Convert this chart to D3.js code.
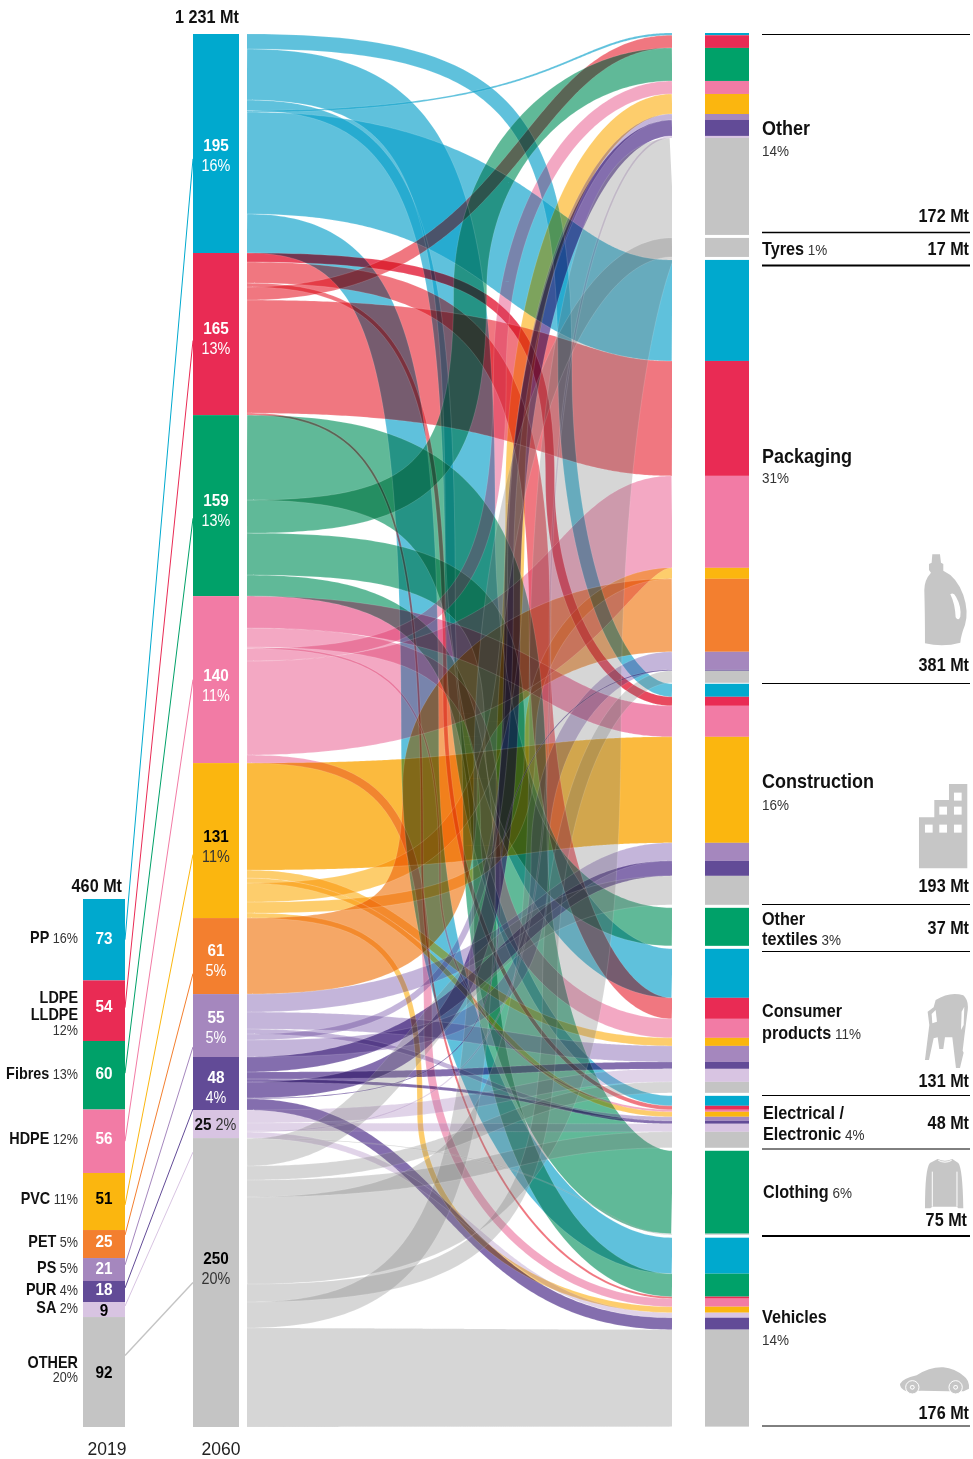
<!DOCTYPE html>
<html>
<head>
<meta charset="utf-8">
<script src="https://cdn.jsdelivr.net/npm/d3@7"></script>
<style>
html, body { margin: 0; padding: 0; background: #fff; }
svg { display: block; background: #fff; }
text { font-family: "Liberation Sans", Arial, sans-serif; }
</style>
</head>
<body>
<div id="chart"></div>
<script>
// polymers, 2019 and 2060 columns
var polymers = ["PP", "LDPE", "Fibres", "HDPE", "PVC", "PET", "PS", "PUR", "SA", "OTHER"];
var labels2019 = [73, 54, 60, 56, 51, 25, 21, 18, 9, 92];
var heights2019 = [70.9, 52.8, 59.7, 55.3, 49.7, 24.4, 20, 18.3, 13.1, 95.8];
var shares2019 = ["16%", "12%", "13%", "12%", "11%", "5%", "5%", "4%", "2%", "20%"];
var labels2060 = [195, 165, 159, 140, 131, 61, 55, 48, 25, 250];
var shares2060 = ["16%", "13%", "13%", "11%", "11%", "5%", "5%", "4%", "2%", "20%"];

// end use sectors, top to bottom in the right column
var sectors = ["Other", "Tyres", "Packaging", "Construction", "Other textiles", "Consumer", "Electrical", "Clothing", "Vehicles"];
var vehiclesStack = ["PP", "Fibres", "LDPE", "HDPE", "PVC", "SA", "PUR", "OTHER"];

// flows, in the stacking order of the 2060 column, Mt read on each side
var flowPolymer = [
  "PP", "PP", "PP", "PP", "PP", "PP",
  "LDPE", "LDPE", "LDPE", "LDPE", "LDPE", "LDPE",
  "Fibres", "Fibres", "Fibres", "Fibres",
  "HDPE", "HDPE", "HDPE", "HDPE", "HDPE", "HDPE",
  "PVC", "PVC", "PVC", "PVC", "PVC", "PVC",
  "PET",
  "PS", "PS", "PS", "PS", "PS",
  "PUR", "PUR", "PUR", "PUR", "PUR", "PUR",
  "SA", "SA", "SA", "SA",
  "OTHER", "OTHER", "OTHER", "OTHER", "OTHER", "OTHER", "OTHER", "OTHER"];
var flowSector = [
  "Construction", "Consumer", "Electrical", "Other", "Packaging", "Vehicles",
  "Construction", "Consumer", "Electrical", "Other", "Packaging", "Vehicles",
  "Clothing", "Other", "Other textiles", "Vehicles",
  "Construction", "Consumer", "Electrical", "Other", "Packaging", "Vehicles",
  "Construction", "Consumer", "Electrical", "Other", "Packaging", "Vehicles",
  "Packaging",
  "Construction", "Consumer", "Electrical", "Other", "Packaging",
  "Construction", "Consumer", "Electrical", "Other", "Packaging", "Vehicles",
  "Consumer", "Electrical", "Other", "Vehicles",
  "Clothing", "Construction", "Consumer", "Electrical", "Other", "Packaging", "Tyres", "Vehicles"];
var flowOut = [
  13.3, 45.1, 9.3, 1.3, 90.1, 34.5,
  8.0, 18.6, 3.5, 11.5, 99.9, 1.8,
  75.1, 29.2, 37.1, 18.6,
  28.3, 16.8, 1.3, 11.0, 83.1, 7.1,
  94.6, 7.1, 4.4, 16.8, 9.7, 4.4,
  67.2,
  15.9, 15.0, 4.4, 5.3, 15.0,
  13.3, 6.2, 2.7, 14.1, 0.7, 9.9,
  11.5, 7.1, 0.9, 5.3,
  0.6, 24.1, 12.4, 15.0, 76.9, 15.9, 23.0, 87.5];
var flowIn = [
  11.5, 43.3, 8.8, 2.0, 89.3, 31.8,
  8.0, 18.6, 3.5, 11.2, 101.6, 1.8,
  73.3, 29.2, 33.6, 20.3,
  27.4, 16.8, 1.8, 11.5, 81.3, 7.1,
  93.7, 7.1, 4.4, 17.7, 9.7, 5.3,
  64.5,
  15.9, 14.1, 3.5, 5.3, 15.9,
  13.3, 6.2, 2.7, 14.1, 0.9, 10.6,
  11.5, 7.1, 1.8, 4.4,
  0.9, 25.6, 9.7, 14.1, 85.7, 10.6, 16.8, 85.7];

// where each ribbon turns, as a share of the width between the columns
var flowBend = [
  .748, .525, .478, .689, .612, .407,
  .713, .689, .466, .607, .659, .412,
  .607, .525, .607, .56,
  .631, .572, .454, .595, .713, .426,
  .595, .471, .525, .631, .666, .407,
  .454,
  .631, .572, .525, .62, .689,
  .572, .595, .666, .624, .595, .478,
  .595, .5, .713, .525,
  .725, .442, .548, .572, .772, .713, .56, .5];

var barColors = ["#00a9ce", "#e92b54", "#00a169", "#f27ba5", "#fbb60f", "#f37f2f", "#a587be", "#624b97", "#d8c4e2", "#c4c4c4"];
var ribbonColors = ["#5fc1dc", "#f07780", "#60b998", "#f3a8c3", "#fdcd6c", "#f5a766", "#c4b5da", "#846fae", "#e0d3e8", "#d6d6d6"];
var constructionColors = ["#5fc1dc", "#e8435f", "#60b998", "#f08cb0", "#fbba33", "#f5a766", "#c4b5da", "#846fae", "#e0d3e8", "#d6d6d6"];
var valueColors = ["#fff", "#fff", "#fff", "#fff", "#000", "#fff", "#fff", "#fff", "#000", "#000"];

// connector anchors, share of bar height
var anchor2019 = [.5, .45, .47, .5, .56, .18, .3, .33, .27, .35];
var anchor2060 = [.57, .54, .57, .5, .59, .73, .84, .98, 1.5, .5];

// small label shifts against the bar centre
var nudge2019 = [4, 1, 4, 3, 2, 3, 4, 4, 6, 6];
var nudge2060 = [7.5, 0, 0, 1, 1, 0, -3, -1, 0, -19];

var width = 973, height = 1459;
var total = d3.sum(flowOut);
var sankeyX0 = 247, sankeyX1 = 672;
var sectorGaps = [3, 3, 1, 3, 3, 3, 3, 3];
var fadeAlpha = .65, plainShare = .3;

var yLeft = d3.scaleLinear().domain([0, total]).range([34, 1427]);
var px = (yLeft(total) - yLeft(0)) / total;
var y2019 = d3.scaleLinear().domain([0, d3.sum(heights2019)]).range([899, 1427]);
var bendX = d3.scaleLinear().domain([0, 1]).range([sankeyX0, sankeyX1]);

var svg = d3.select("#chart").append("svg").attr("width", width).attr("height", height);

function label(x, y, str, size, bold, anchor, fill) {
  return svg.append("text")
    .attr("transform", "translate(" + x + "," + y + ") scale(.9,1)")
    .attr("text-anchor", anchor || "start")
    .attr("font-size", size)
    .attr("font-weight", bold ? 700 : 400)
    .attr("fill", fill || "#111")
    .text(str);
}
function label2(x, y, boldStr, plainStr, size, plainSize, anchor) {
  var t = svg.append("text")
    .attr("transform", "translate(" + x + "," + y + ") scale(.9,1)")
    .attr("text-anchor", anchor || "start")
    .attr("fill", "#111");
  t.append("tspan").attr("font-size", size).attr("font-weight", 700).text(boldStr);
  t.append("tspan").attr("font-size", plainSize).attr("fill", "#333").text(" " + plainStr);
  return t;
}

// stack everything first
var flows = flowPolymer.map(function(p, i) {
  return {polymer: p, sector: flowSector[i], out: flowOut[i], into: flowIn[i], bend: flowBend[i], pi: polymers.indexOf(p)};
});

var cum = 0;
var bars2060 = polymers.map(function(p) {
  var start = cum;
  flows.filter(function(f) { return f.polymer == p; }).forEach(function(f) {
    f.y0 = yLeft(cum + f.out / 2);
    cum += f.out;
  });
  return {polymer: p, start: start, end: cum};
});

var yr = 33;
var sectorSegments = [];
sectors.forEach(function(s, si) {
  var list = flows.filter(function(f) { return f.sector == s; });
  var order = s == "Vehicles" ? vehiclesStack : polymers;
  list.sort(function(a, b) { return order.indexOf(a.polymer) - order.indexOf(b.polymer); });
  list.forEach(function(f) {
    var h = f.into * px;
    f.y1 = yr + h / 2;
    sectorSegments.push({y: yr, h: h, color: barColors[f.pi]});
    yr += h;
  });
  if (si < sectorGaps.length) yr += sectorGaps[si];
});

// centre line of a ribbon, then offset square to it so the band keeps its width
function bezier(a, b, c, d, t) {
  var u = 1 - t;
  return u * u * u * a + 3 * u * u * t * b + 3 * u * t * t * c + t * t * t * d;
}
function centreLine(f) {
  var x0 = sankeyX0, x1 = sankeyX1, y0 = f.y0, y1 = f.y1, c = bendX(f.bend);
  var pts = [], n = 90, i, t;
  if (Math.abs(y1 - y0) < 300) {
    var xm = (c - (x0 + x1) / 8) / .75;
    for (i = 0; i <= 2 * n; i++) {
      t = i / (2 * n);
      pts.push([bezier(x0, xm, xm, x1, t), bezier(y0, y0, y1, y1, t)]);
    }
  } else {
    var ym = (y0 + y1) / 2;
    for (i = 0; i <= n; i++) {
      t = i / n;
      pts.push([bezier(x0, x0 + .8 * (c - x0), c, c, t), bezier(y0, y0, y0 + .2 * (ym - y0), ym, t)]);
    }
    for (i = 1; i <= n; i++) {
      t = i / n;
      pts.push([bezier(c, c, x1 - .55 * (x1 - c), x1, t), bezier(ym, ym + .55 * (y1 - ym), y1, y1, t)]);
    }
  }
  return pts;
}
function ribbonSides(f) {
  var pts = centreLine(f), n = pts.length, upper = [], lower = [];
  pts.forEach(function(p, i) {
    var a = pts[Math.max(i - 1, 0)], b = pts[Math.min(i + 1, n - 1)];
    var dx = b[0] - a[0], dy = b[1] - a[1], len = Math.hypot(dx, dy) || 1;
    var w = (f.out + (f.into - f.out) * i / (n - 1)) * px / 2;
    upper.push([p[0] + dy / len * w, p[1] - dx / len * w]);
    lower.push([p[0] - dy / len * w, p[1] + dx / len * w]);
  });
  return [upper, lower];
}
function ribbonPath(f) {
  var sides = ribbonSides(f), upper = sides[0], lower = sides[1];
  // every quad wound the same way so tight bends fill without holes
  var path = d3.path();
  for (var i = 0; i < upper.length - 1; i++) {
    var q = [upper[i], upper[i + 1], lower[i + 1], lower[i]];
    if (d3.polygonArea(q) < 0) q.reverse();
    path.moveTo(q[0][0], q[0][1]);
    path.lineTo(q[1][0], q[1][1]);
    path.lineTo(q[2][0], q[2][1]);
    path.lineTo(q[3][0], q[3][1]);
    path.closePath();
  }
  return path.toString();
}
var edgeLine = d3.line();
function ribbonEdges(f) {
  var sides = ribbonSides(f);
  return edgeLine(sides[0]) + edgeLine(sides[1]);
}
function ribbonColor(d) {
  return d.sector == "Construction" ? constructionColors[d.pi] : ribbonColors[d.pi];
}
// the colour that gives the pale ribbon colour once faded over white
function unfaded(c) {
  var r = d3.rgb(c);
  var f = function(v) { return Math.max(0, Math.min(255, (v - 255 * (1 - fadeAlpha)) / fadeAlpha)); };
  return d3.rgb(f(r.r), f(r.g), f(r.b)).toString();
}

svg.append("clipPath").attr("id", "sankeyClip").append("rect")
  .attr("x", sankeyX0).attr("y", 30).attr("width", sankeyX1 - sankeyX0).attr("height", 1400);

var ribbons = svg.append("g").attr("clip-path", "url(#sankeyClip)").style("isolation", "isolate");

// overlaps sit between a multiply and a plain see-through mix
var multiplyLayer = ribbons.append("g");
multiplyLayer.selectAll("path.multi")
  .data(flows.filter(function(d) { return d.polymer != "PP"; }))
  .enter()
  .append("path")
    .attr("class", "multi")
    .attr("d", ribbonPath)
    .attr("fill", ribbonColor)
    .style("mix-blend-mode", "multiply");

// PP keeps a clean blue where it crosses itself
multiplyLayer.append("g").style("mix-blend-mode", "multiply").selectAll("path")
  .data(flows.filter(function(d) { return d.polymer == "PP"; }))
  .enter()
  .append("path")
    .attr("d", ribbonPath)
    .attr("fill", function(d) { return unfaded(ribbonColor(d)); })
    .attr("fill-opacity", fadeAlpha);

var plainLayer = ribbons.append("g").attr("opacity", plainShare);
plainLayer.append("rect")
  .attr("x", 0).attr("y", 0).attr("width", width).attr("height", height).attr("fill", "#fff");
plainLayer.selectAll("path")
  .data(flows)
  .enter()
  .append("path")
    .attr("d", ribbonPath)
    .attr("fill", function(d) { return unfaded(ribbonColor(d)); })
    .attr("fill-opacity", fadeAlpha);

// faint light seams along the ribbon edges
ribbons.append("g").selectAll("path")
  .data(flows)
  .enter()
  .append("path")
    .attr("d", ribbonEdges)
    .attr("fill", "none")
    .attr("stroke", "#fff")
    .attr("stroke-opacity", .22)
    .attr("stroke-width", .6);

// connectors between the two left columns
var cum19 = d3.cumsum(heights2019);
polymers.forEach(function(p, i) {
  var top19 = i ? cum19[i - 1] : 0;
  var bar = bars2060[i];
  svg.append("line")
    .attr("x1", 125)
    .attr("y1", y2019(top19 + heights2019[i] * anchor2019[i]))
    .attr("x2", 193)
    .attr("y2", yLeft(bar.start + (bar.end - bar.start) * anchor2060[i]))
    .attr("stroke", barColors[i])
    .attr("stroke-width", i == 9 ? 1.4 : 1);
});

// 2019 bars
svg.append("g").selectAll("rect")
  .data(heights2019)
  .enter()
  .append("rect")
    .attr("x", 83).attr("width", 42)
    .attr("y", function(d, i) { return y2019(i ? cum19[i - 1] : 0); })
    .attr("height", function(d) { return y2019(d) - y2019(0); })
    .attr("fill", function(d, i) { return barColors[i]; });

// 2060 bars
svg.append("g").selectAll("rect")
  .data(bars2060)
  .enter()
  .append("rect")
    .attr("x", 193).attr("width", 46)
    .attr("y", function(d) { return yLeft(d.start); })
    .attr("height", function(d) { return yLeft(d.end) - yLeft(d.start); })
    .attr("fill", function(d, i) { return barColors[i]; });

// right column
svg.append("g").selectAll("rect")
  .data(sectorSegments)
  .enter()
  .append("rect")
    .attr("x", 705).attr("width", 44)
    .attr("y", function(d) { return d.y; })
    .attr("height", function(d) { return d.h; })
    .attr("fill", function(d) { return d.color; });

// 2019 values
labels2019.forEach(function(v, i) {
  var top19 = i ? cum19[i - 1] : 0;
  label(104, y2019(top19 + heights2019[i] / 2) + nudge2019[i], v, 17, true, "middle", valueColors[i]);
});

// 2060 values, number over share
labels2060.forEach(function(v, i) {
  var bar = bars2060[i];
  var cy = (yLeft(bar.start) + yLeft(bar.end)) / 2;
  if (i == 8) {
    label2(215.5, cy + 6, v, shares2060[i], 17, 16, "middle");
    return;
  }
  label(216, cy + nudge2060[i], v, 17, true, "middle", valueColors[i]);
  label(216, cy + nudge2060[i] + 20, shares2060[i], 16, false, "middle", i == 4 || i == 9 ? "#333" : "#fff");
});

// polymer names
var singleRow = {PP: 943, Fibres: 1079, HDPE: 1144, PVC: 1204, PET: 1247, PS: 1273, PUR: 1295, SA: 1313};
polymers.forEach(function(p, i) {
  if (singleRow[p]) label2(78, singleRow[p], p, shares2019[i], 16, 14, "end");
});
label(78, 1003, "LDPE", 16, true, "end");
label(78, 1020, "LLDPE", 16, true, "end");
label(78, 1035, "12%", 14, false, "end", "#333");
label(78, 1368, "OTHER", 16, true, "end");
label(78, 1382, "20%", 14, false, "end", "#333");

label(122, 892, "460 Mt", 18, true, "end");
label(239, 23, "1 231 Mt", 18, true, "end");
svg.append("text").attr("x", 107).attr("y", 1455).attr("text-anchor", "middle").attr("font-size", 17.5).attr("fill", "#222").text("2019");
svg.append("text").attr("x", 221).attr("y", 1455).attr("text-anchor", "middle").attr("font-size", 17.5).attr("fill", "#222").text("2060");

// sector rules and names
var rules = [[34.5, 1], [232.5, 1.5], [265.5, 2], [683.5, 1], [904.5, 1], [951.5, 1], [1095.5, 1], [1149, 1], [1236, 2], [1426, 1]];
rules.forEach(function(r) {
  svg.append("line").attr("x1", 762).attr("x2", 970).attr("y1", r[0]).attr("y2", r[0])
    .attr("stroke", "#000").attr("stroke-width", r[1]);
});

label(762, 135, "Other", 20, true);
label(762, 156, "14%", 15, false, "start", "#333");
label(969, 222, "172 Mt", 18, true, "end");
label2(762, 255, "Tyres", "1%", 18, 15);
label(969, 255, "17 Mt", 18, true, "end");
label(762, 463, "Packaging", 20, true);
label(762, 483, "31%", 15, false, "start", "#333");
label(969, 671, "381 Mt", 18, true, "end");
label(762, 788, "Construction", 20, true);
label(762, 810, "16%", 15, false, "start", "#333");
label(969, 892, "193 Mt", 18, true, "end");
label(762, 925, "Other", 18, true);
label2(762, 945, "textiles", "3%", 18, 15);
label(969, 934, "37 Mt", 18, true, "end");
label(762, 1017, "Consumer", 18, true);
label2(762, 1039, "products", "11%", 18, 15);
label(969, 1087, "131 Mt", 18, true, "end");
label(763, 1119, "Electrical /", 18, true);
label2(763, 1140, "Electronic", "4%", 18, 15);
label(969, 1129, "48 Mt", 18, true, "end");
label2(763, 1198, "Clothing", "6%", 18, 15);
label(967, 1226, "75 Mt", 18, true, "end");
label(762, 1323, "Vehicles", 18, true);
label(762, 1345, "14%", 15, false, "start", "#333");
label(969, 1419, "176 Mt", 18, true, "end");

// pictograms
var iconGrey = "#c6c6c6";
var icons = svg.append("g").attr("transform", "translate(695,500) scale(.3333)");
// bottle
icons.append("path").attr("fill", iconGrey)
  .attr("d", "M712,163 L735,163 L738,188 L745,192 L745,212 Q785,230 805,285 Q822,335 810,375 Q798,405 796,428 Q745,442 690,430 Q690,340 688,270 Q688,240 708,218 L702,210 L702,192 L710,188 Z");
icons.append("path").attr("fill", "#fff")
  .attr("d", "M766,283 Q775,275 783,290 Q800,320 796,350 Q790,365 782,352 Q780,310 766,283 Z");
// building
icons.append("path").attr("fill", iconGrey)
  .attr("d", "M672,952 L718,952 L718,900 L762,900 L762,852 L817,852 L817,1105 L672,1105 Z");
[[690, 974], [733, 974], [777, 974], [733, 920], [777, 920], [777, 878]].forEach(function(w) {
  icons.append("rect").attr("x", w[0]).attr("y", w[1]).attr("width", 23).attr("height", 24).attr("fill", "#fff");
});

var icons2 = svg.append("g").attr("transform", "translate(695,980) scale(.3333)");
// chair
icons2.append("path").attr("fill", iconGrey)
  .attr("d", "M722,60 Q765,33 805,46 Q824,62 817,100 L808,170 L803,212 L806,218 L795,264 L783,264 L772,172 L750,172 L745,207 L733,207 L728,172 L716,175 L702,240 L690,240 L703,135 L698,95 L716,82 Z");
icons2.append("path").attr("fill", "#fff").attr("d", "M710,102 L722,90 L726,125 L712,130 Z");
icons2.append("path").attr("fill", "#fff").attr("d", "M800,95 L808,80 L806,135 L798,150 Z");
// sweater
icons2.append("path").attr("fill", iconGrey)
  .attr("d", "M728,537 Q750,548 772,537 L790,549 Q803,565 805,685 L790,685 L786,680 L712,680 L706,685 L690,685 Q690,565 705,549 Z");
icons2.append("path").attr("fill", "none").attr("stroke", "#fff").attr("stroke-width", 3)
  .attr("d", "M712,575 L712,680 M786,575 L786,680 M730,541 Q750,552 770,541");
// car
icons2.append("path").attr("fill", iconGrey)
  .attr("d", "M615,1212 Q622,1196 665,1186 Q705,1160 745,1162 Q780,1166 806,1188 Q824,1200 822,1226 L806,1234 L760,1234 L680,1232 L635,1234 Q615,1228 615,1212 Z");
[[652, 1222], [782, 1222]].forEach(function(w) {
  icons2.append("circle").attr("cx", w[0]).attr("cy", w[1]).attr("r", 20).attr("fill", iconGrey).attr("stroke", "#fff").attr("stroke-width", 3);
  icons2.append("circle").attr("cx", w[0]).attr("cy", w[1]).attr("r", 7).attr("fill", "#fff");
  icons2.append("circle").attr("cx", w[0]).attr("cy", w[1]).attr("r", 4).attr("fill", iconGrey);
});
</script>
</body>
</html>
